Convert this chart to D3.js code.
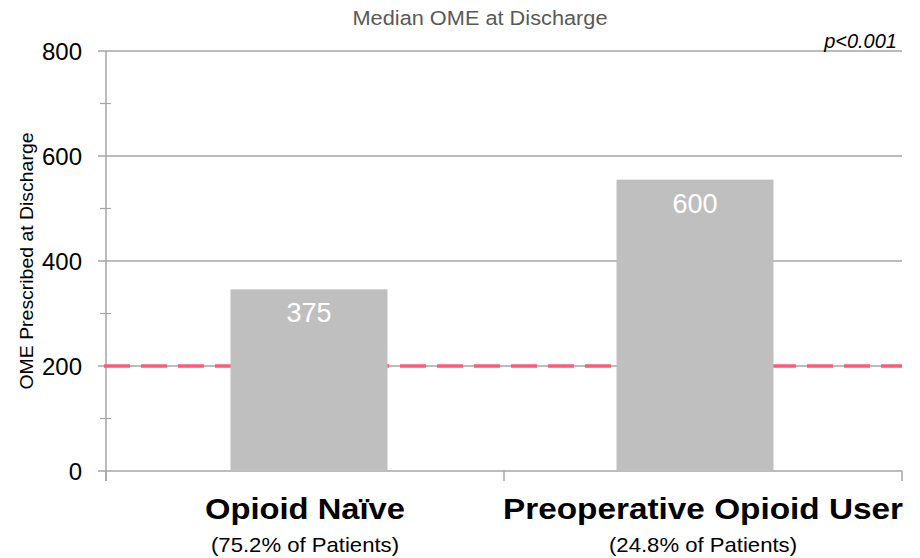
<!DOCTYPE html>
<html>
<head>
<meta charset="utf-8">
<script src="https://cdn.jsdelivr.net/npm/d3@7"></script>
<style>
  body { margin: 0; background: #fff; }
  text { font-family: "Liberation Sans", Arial, sans-serif; }
</style>
</head>
<body>
<script>
var groups = ['Opioid Naïve', 'Preoperative Opioid User'];
var shares = ['(75.2% of Patients)', '(24.8% of Patients)'];
var barValues = [346, 555];      // bar heights as drawn
var barLabels = ['375', '600'];  // labels printed on the bars
var yTicks = [0, 200, 400, 600, 800];
var minorTicks = [100, 300, 500, 700];
var refLine = 200;

var width = 920, height = 558;
var margin = { top: 51, right: 18, bottom: 88, left: 106 };

var svg = d3.select('body')
            .append('svg')
            .attr('width', width)
            .attr('height', height);

// category slots (for boundary ticks and labels)
var x = d3.scaleBand()
          .domain(groups)
          .range([margin.left, width - margin.right]);

// bar centres sit a little off the slot centres in the original
var barX = d3.scalePoint()
             .domain(groups)
             .range([309, 695]);
var barWidth = 157;

var y = d3.scaleLinear()
          .domain([0, 800])
          .range([height - margin.bottom + 1, margin.top]);

var gridColor = '#a6a6a6';

// gridlines
svg.selectAll('.grid')
   .data(yTicks)
   .enter()
   .append('line')
   .attr('x1', 98)
   .attr('x2', width - margin.right)
   .attr('y1', function (d) { return y(d); })
   .attr('y2', function (d) { return y(d); })
   .style('stroke', gridColor)
   .style('stroke-width', 1.5);

// minor ticks
svg.selectAll('.minor')
   .data(minorTicks)
   .enter()
   .append('line')
   .attr('x1', 100)
   .attr('x2', 111)
   .attr('y1', function (d) { return y(d); })
   .attr('y2', function (d) { return y(d); })
   .style('stroke', gridColor)
   .style('stroke-width', 1.2);

// y axis line
svg.append('line')
   .attr('x1', margin.left).attr('x2', margin.left)
   .attr('y1', y(800)).attr('y2', y(0) + 10)
   .style('stroke', gridColor)
   .style('stroke-width', 1.5);

// category boundary ticks
var step = x.step();
var bounds = [margin.left, margin.left + step, margin.left + 2 * step];
svg.selectAll('.xtick')
   .data(bounds)
   .enter()
   .append('line')
   .attr('x1', function (d) { return d; })
   .attr('x2', function (d) { return d; })
   .attr('y1', y(0))
   .attr('y2', y(0) + 10)
   .style('stroke', gridColor)
   .style('stroke-width', 1.5);

// y tick labels
svg.selectAll('.ylab')
   .data(yTicks)
   .enter()
   .append('text')
   .attr('x', 82)
   .attr('y', function (d) { return y(d) + 8.5; })
   .attr('text-anchor', 'end')
   .style('font-size', '24px')
   .style('fill', '#000')
   .text(function (d) { return d; });

// bars
svg.selectAll('.bar')
   .data(barValues)
   .enter()
   .append('rect')
   .attr('x', function (d, i) { return barX(groups[i]) - barWidth / 2; })
   .attr('width', barWidth)
   .attr('y', function (d) { return y(d); })
   .attr('height', function (d) { return y(0) - y(d); })
   .style('fill', '#bfbfbf');

// dashed reference line (drawn in gaps, hidden behind bars)
svg.insert('line', 'rect')
   .attr('x1', margin.left - 2)
   .attr('x2', width - margin.right)
   .attr('y1', y(refLine))
   .attr('y2', y(refLine))
   .style('stroke', '#ff5a7a')
   .style('stroke-width', 3.5)
   .style('stroke-dasharray', '26,11');

// bar labels
svg.selectAll('.blab')
   .data(barValues)
   .enter()
   .append('text')
   .attr('x', function (d, i) { return barX(groups[i]); })
   .attr('y', function (d) { return y(d) + 33; })
   .attr('text-anchor', 'middle')
   .style('font-size', '27px')
   .style('fill', '#fff')
   .text(function (d, i) { return barLabels[i]; });

// category labels
svg.selectAll('.cat')
   .data(groups)
   .enter()
   .append('text')
   .attr('x', function (d) { return x(d) + x.bandwidth() / 2; })
   .attr('y', 519)
   .attr('text-anchor', 'middle')
   .attr('textLength', function (d, i) { return i === 0 ? 200 : 400; })
   .attr('lengthAdjust', 'spacingAndGlyphs')
   .style('font-size', '30px')
   .style('font-weight', 'bold')
   .style('fill', '#000')
   .text(function (d) { return d; });

svg.selectAll('.share')
   .data(shares)
   .enter()
   .append('text')
   .attr('x', function (d, i) { return x(groups[i]) + x.bandwidth() / 2; })
   .attr('y', 552)
   .attr('text-anchor', 'middle')
   .attr('textLength', 188)
   .attr('lengthAdjust', 'spacingAndGlyphs')
   .style('font-size', '21px')
   .style('fill', '#000')
   .text(function (d) { return d; });

// title
svg.append('text')
   .attr('x', 480)
   .attr('y', 25)
   .attr('text-anchor', 'middle')
   .attr('textLength', 255)
   .attr('lengthAdjust', 'spacingAndGlyphs')
   .style('font-size', '20px')
   .style('fill', '#595959')
   .text('Median OME at Discharge');

// p value
svg.append('text')
   .attr('x', 897)
   .attr('y', 48)
   .attr('text-anchor', 'end')
   .style('font-size', '20px')
   .style('font-style', 'italic')
   .style('fill', '#000')
   .text('p<0.001');

// y axis title
svg.append('text')
   .attr('transform', 'translate(33,261) rotate(-90)')
   .attr('text-anchor', 'middle')
   .attr('textLength', 257)
   .attr('lengthAdjust', 'spacingAndGlyphs')
   .style('font-size', '18px')
   .style('fill', '#000')
   .text('OME Prescribed at Discharge');
</script>
</body>
</html>
